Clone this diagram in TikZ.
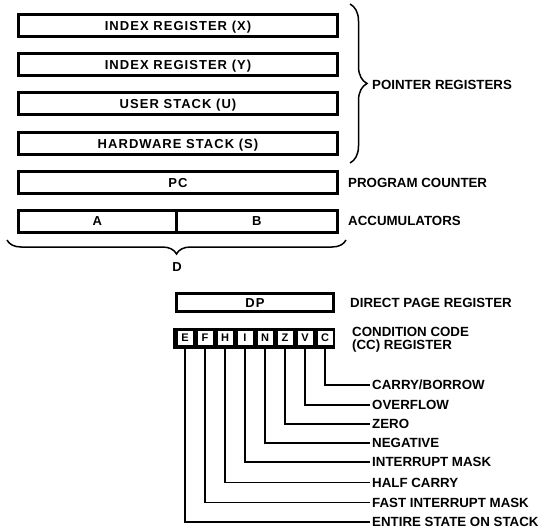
\documentclass[tikz,border=0pt]{standalone}
\usepackage{fontspec}
\setmainfont{Liberation Sans}
\newfontfamily\boxfont[LetterSpace=8]{Liberation Sans}
\usetikzlibrary{decorations.pathreplacing}
\begin{document}
\begin{tikzpicture}[x=1pt,y=-1pt,
  reg/.style={draw, line width=3pt, minimum width=319pt, minimum height=22pt, inner sep=0pt,
    font=\boxfont\bfseries\fontsize{13}{15}\selectfont, text height=9.3pt, text depth=0pt},
  sidebase/.style={anchor=west, inner sep=0pt, font=\bfseries\fontsize{13.3}{16}\selectfont, align=left},
  side/.style={sidebase, text height=9.6pt, text depth=0pt},
  cell/.style={fill=white, minimum width=15pt, minimum height=14pt, inner sep=0pt,
    font=\bfseries\fontsize{11}{12}\selectfont, text height=7.9pt, text depth=0pt},
  wire/.style={line width=1.2pt},
  bracestyle/.style={decorate, line width=1.5pt},
]
\useasboundingbox (0,0) rectangle (553,529);

% pointer registers
\node[reg] (rx) at (178,26) {INDEX REGISTER (X)};
\node[reg] (ry) at (178,64.5) {INDEX REGISTER (Y)};
\node[reg] (ru) at (178,103.5) {USER STACK (U)};
\node[reg] (rs) at (178,143.5) {HARDWARE STACK (S)};
\coordinate (pbtop) at (350,4);
\coordinate (pbbot) at (350,163);
\draw[bracestyle, decoration={brace, amplitude=17pt}] (pbtop) -- (pbbot);
\node[side] (ptrlbl) at (372,85) {POINTER REGISTERS};

% program counter
\node[reg] (pc) at (178,182.5) {PC};
\node[side] (pclbl) at (348,182.5) {PROGRAM COUNTER};

% accumulators
\node[reg, minimum width=157.5pt] (acca) at (97.25,221) {A};
\node[reg, minimum width=161.5pt] (accb) at (256.75,221) {B};
\node[side] (acclbl) at (348,221) {ACCUMULATORS};
\coordinate (dbr) at (346,240);
\coordinate (dbl) at (7,240);
\draw[bracestyle, decoration={brace, amplitude=14pt}] (dbr) -- (dbl);
\node[font=\bfseries\fontsize{13}{15}\selectfont, text height=9.3pt, text depth=0pt, inner sep=0pt] (dlbl) at (177,267) {D};

% direct page
\node[reg, minimum width=157pt, minimum height=18pt] (dp) at (255,302.5) {DP};
\node[side] (dplbl) at (350,302.5) {DIRECT PAGE REGISTER};

% condition code register
\node[fill=black, minimum width=162pt, minimum height=21pt, inner sep=0pt] (cc) at (254,338) {};
\node[cell] (cE) at (185,338) {E};
\node[cell] (cF) at (205,338) {F};
\node[cell] (cH) at (225,338) {H};
\node[cell] (cI) at (245,338) {I};
\node[cell] (cN) at (265,338) {N};
\node[cell] (cZ) at (285,338) {Z};
\node[cell] (cV) at (305,338) {V};
\node[cell] (cC) at (325,338) {C};
\node[sidebase, font=\bfseries\fontsize{13.3}{13}\selectfont, anchor=north west] (cclbl) at (352,327) {CONDITION CODE\\(CC) REGISTER};

% flag labels
\node[side] (lC) at (372,385) {CARRY/BORROW};
\node[side] (lV) at (372,405) {OVERFLOW};
\node[side] (lZ) at (372,424) {ZERO};
\node[side] (lN) at (372,443) {NEGATIVE};
\node[side] (lI) at (372,462) {INTERRUPT MASK};
\node[side] (lH) at (372,482.5) {HALF CARRY};
\node[side] (lF) at (372,502.5) {FAST INTERRUPT MASK};
\node[side] (lE) at (372,522) {ENTIRE STATE ON STACK};

\draw[wire] (cC.south) |- ([xshift=-2pt]lC.west);
\draw[wire] (cV.south) |- ([xshift=-2pt]lV.west);
\draw[wire] (cZ.south) |- ([xshift=-2pt]lZ.west);
\draw[wire] (cN.south) |- ([xshift=-2pt]lN.west);
\draw[wire] (cI.south) |- ([xshift=-2pt]lI.west);
\draw[wire] (cH.south) |- ([xshift=-2pt]lH.west);
\draw[wire] (cF.south) |- ([xshift=-2pt]lF.west);
\draw[wire] (cE.south) |- ([xshift=-2pt]lE.west);
\end{tikzpicture}
\end{document}
